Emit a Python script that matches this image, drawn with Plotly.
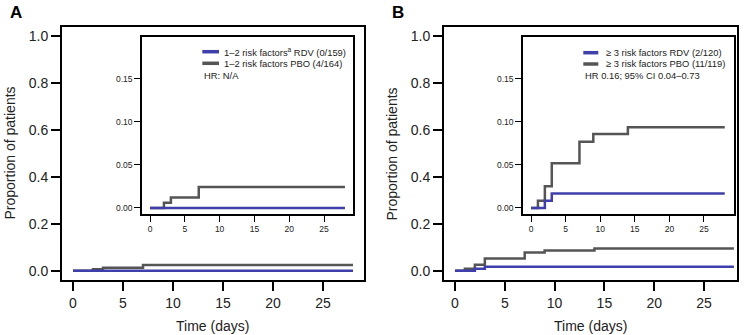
import plotly.graph_objects as go

# ---------------- data ----------------
a_rdv_days = [0, 28]
a_rdv_prop = [0.0, 0.0]
a_pbo_days = [0, 2, 3, 7, 28]
a_pbo_prop = [0.0, 0.0061, 0.0122, 0.0244, 0.0244]

b_rdv_days = [0, 2, 3, 28]
b_rdv_prop = [0.0, 0.0084, 0.0168, 0.0168]
b_pbo_days = [0, 1, 2, 3, 7, 9, 14, 28]
b_pbo_prop = [0.0, 0.0084, 0.0252, 0.052, 0.077, 0.086, 0.094, 0.094]

main_yticks = [0.0, 0.2, 0.4, 0.6, 0.8, 1.0]
main_yticklabels = ["0.0", "0.2", "0.4", "0.6", "0.8", "1.0"]
inset_yticks = [0.0, 0.05, 0.10, 0.15]
inset_yticklabels = ["0.00", "0.05", "0.10", "0.15"]
xticks = [0, 5, 10, 15, 20, 25]

legend_a = ["1–2 risk factors<sup>a</sup> RDV (0/159)", "1–2 risk factors PBO (4/164)", "HR: N/A"]
legend_b = ["≥ 3 risk factors RDV (2/120)", "≥ 3 risk factors PBO (11/119)", "HR 0.16; 95% CI 0.04–0.73"]

BLUE = "#3f3fab"
GRAY = "#555555"
FONT = "Liberation Sans, Arial, sans-serif"

W, H = 747, 335


def px(x):
    return x / W


def py(y):
    return 1 - y / H


fig = go.Figure()

panels = [
    ("x", "y", "x3", "y3", (a_rdv_days, a_rdv_prop), (a_pbo_days, a_pbo_prop)),
    ("x2", "y2", "x4", "y4", (b_rdv_days, b_rdv_prop), (b_pbo_days, b_pbo_prop)),
]

for mx, my, ix, iy, rdv, pbo in panels:
    for (xx, yy), col, ax, ay, w in [
        (pbo, GRAY, mx, my, 2.5), (rdv, BLUE, mx, my, 2.5),
        (pbo, GRAY, ix, iy, 2.5), (rdv, BLUE, ix, iy, 2.5),
    ]:
        fig.add_trace(go.Scatter(x=xx, y=yy, mode="lines", line=dict(color=col, width=w, shape="hv"),
                                 xaxis=ax, yaxis=ay, showlegend=False, hoverinfo="skip"))

main_ax = dict(showline=True, linecolor="black", linewidth=2, mirror=True, ticks="outside",
               ticklen=9, tickwidth=1.5, tickcolor="black", showgrid=False, zeroline=False,
               tickfont=dict(family=FONT, size=14, color="#222"))
inset_ax = dict(showline=True, linecolor="black", linewidth=1.5, mirror=True, ticks="outside",
                ticklen=6, tickwidth=1.3, tickcolor="black", showgrid=False, zeroline=False,
                tickfont=dict(family=FONT, size=8.5, color="#222"))

ydom = [py(280), py(27)]
inset_ydom = [py(214), py(37)]

fig.update_layout(
    width=W, height=H, margin=dict(l=0, r=0, t=0, b=0),
    paper_bgcolor="white", plot_bgcolor="white",
    font=dict(family=FONT, color="#222"),
    xaxis=dict(main_ax, domain=[px(62), px(363.5)], range=[-1.1, 29.05], tickvals=xticks, anchor="y"),
    yaxis=dict(main_ax, domain=ydom, range=[-0.04, 1.04], tickvals=main_yticks,
               ticktext=main_yticklabels, anchor="x"),
    xaxis2=dict(main_ax, domain=[px(444), px(737.3)], range=[-1.1, 28.34], tickvals=xticks, anchor="y2"),
    yaxis2=dict(main_ax, domain=ydom, range=[-0.04, 1.04], tickvals=main_yticks,
                ticktext=main_yticklabels, anchor="x2"),
    xaxis3=dict(inset_ax, domain=[px(142), px(353.3)], range=[-1.15, 29.2], tickvals=xticks, anchor="y3"),
    yaxis3=dict(inset_ax, domain=inset_ydom, range=[-0.007, 0.1988], tickvals=inset_yticks,
                ticktext=inset_yticklabels, anchor="x3"),
    xaxis4=dict(inset_ax, domain=[px(523), px(734)], range=[-1.16, 29.34], tickvals=xticks, anchor="y4"),
    yaxis4=dict(inset_ax, domain=inset_ydom, range=[-0.007, 0.1988], tickvals=inset_yticks,
                ticktext=inset_yticklabels, anchor="x4"),
)

annotations = []
shapes = []

# panel letters
for letter, x in [("A", 8), ("B", 390)]:
    annotations.append(dict(text="<b>%s</b>" % letter, x=px(x), y=py(12), xref="paper", yref="paper",
                            xanchor="left", yanchor="middle", showarrow=False,
                            font=dict(family=FONT, size=17, color="black")))

# axis titles
for cx in [212.7, 590.6]:
    annotations.append(dict(text="Time (days)", x=px(cx), y=py(326), xref="paper", yref="paper",
                            xanchor="center", yanchor="middle", showarrow=False,
                            font=dict(family=FONT, size=14, color="#222")))
for cx in [9, 391]:
    annotations.append(dict(text="Proportion of patients", x=px(cx), y=py(153.5), xref="paper", yref="paper",
                            xanchor="center", yanchor="middle", showarrow=False, textangle=-90,
                            font=dict(family=FONT, size=14, color="#222")))

# legends inside insets
for labels, x0, x1, xt, rows in [
    (legend_a, 202.3, 219, 222.3, [51.7, 63.3, 75]),
    (legend_b, 583.3, 598.3, 604, [52.7, 64, 75.7]),
]:
    for i, lab in enumerate(labels):
        annotations.append(dict(text=lab, x=px(xt if i < 2 else x0), y=py(rows[i]), xref="paper", yref="paper",
                                xanchor="left", yanchor="middle", showarrow=False,
                                font=dict(family=FONT, size=9.4, color="#222")))
    for i, col in enumerate([BLUE, GRAY]):
        shapes.append(dict(type="line", xref="paper", yref="paper", x0=px(x0), x1=px(x1),
                           y0=py(rows[i]), y1=py(rows[i]), line=dict(color=col, width=3.5)))

fig.update_layout(annotations=annotations, shapes=shapes)

fig.write_html("out.html", config={"displayModeBar": False},
               post_script="document.body.style.margin='0';document.body.style.overflow='hidden';")
